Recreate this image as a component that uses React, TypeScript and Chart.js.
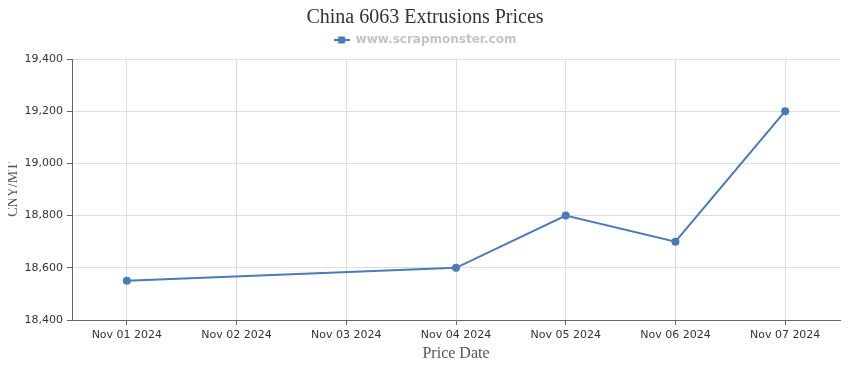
import React, { useEffect, useRef } from "react";
import { Chart, registerables } from "chart.js";

Chart.register(...registerables);

const categories = ["Nov 01 2024", "Nov 02 2024", "Nov 03 2024", "Nov 04 2024", "Nov 05 2024", "Nov 06 2024", "Nov 07 2024"];
const prices: (number | null)[] = [18550, null, null, 18600, 18800, 18700, 19200];
const seriesName = "www.scrapmonster.com";
const chartTitle = "China 6063 Extrusions Prices";
const xTitle = "Price Date";
const yTitle = "CNY/MT";
const yMin = 18400;
const yMax = 19400;
const yStep = 200;

const LINE = "#4a7ab8";

function makeMarker(): HTMLCanvasElement {
  const c = document.createElement("canvas");
  c.width = 16;
  c.height = 8;
  const g = c.getContext("2d")!;
  g.fillStyle = LINE;
  g.fillRect(0, 3, 16, 2);
  g.fillRect(4.5, 0.5, 7, 7);
  return c;
}

const legendGap = {
  id: "legendGap",
  beforeLayout(chart: any) {
    const lg = chart.legend;
    if (lg && !lg.__patched) {
      const orig = lg.fit;
      lg.fit = function () {
        orig.call(this);
        this.height += 3;
      };
      lg.__patched = true;
    }
  },
};

export default function App() {
  const ref = useRef<HTMLCanvasElement>(null);
  useEffect(() => {
    const marker = makeMarker();
    const chart = new Chart(ref.current!, {
      type: "line",
      data: {
        labels: categories,
        datasets: [
          {
            label: seriesName,
            data: prices,
            borderColor: LINE,
            backgroundColor: LINE,
            borderWidth: 2,
            pointRadius: 4,
            pointHoverRadius: 4,
            pointBackgroundColor: LINE,
            pointBorderWidth: 0,
            spanGaps: true,
            tension: 0,
            pointStyle: "circle",
          },
        ],
      },
      options: {
        animation: false,
        responsive: true,
        maintainAspectRatio: false,
        layout: { padding: 0 },
        plugins: {
          tooltip: { enabled: false },
          title: {
            display: true,
            text: chartTitle,
            color: "#333333",
            font: { family: "'Liberation Serif', 'Times New Roman', serif", size: 20, weight: "normal" },
            padding: { top: 6, bottom: 0 },
          },
          legend: {
            display: true,
            position: "top",
            labels: {
              color: "#c4c4c4",
              font: { family: "'DejaVu Sans', Verdana, sans-serif", size: 12, weight: "bold" },
              padding: 4,
              usePointStyle: true,
              pointStyleWidth: 16,
              generateLabels: (ch: any) =>
                ch.data.datasets.map((ds: any, i: number) => ({
                  text: ds.label,
                  fillStyle: LINE,
                  strokeStyle: LINE,
                  lineWidth: 0,
                  pointStyle: marker,
                  hidden: false,
                  datasetIndex: i,
                  fontColor: "#c4c4c4",
                })),
            },
          },
        },
        scales: {
          x: {
            type: "category",
            offset: true,
            afterFit: (s: any) => {
              s.height = 50;
            },
            grid: {
              offset: false,
              color: "#dddddd",
              tickColor: "#666666",
              tickLength: 5,
              drawOnChartArea: true,
            },
            border: { color: "#666666", width: 1 },
            ticks: {
              color: "#333333",
              font: { family: "'DejaVu Sans', Verdana, sans-serif", size: 11 },
              padding: 4,
              maxRotation: 0,
              autoSkip: false,
            },
            title: {
              display: true,
              text: xTitle,
              color: "#555555",
              font: { family: "'Liberation Serif', 'Times New Roman', serif", size: 16 },
              padding: { top: 0, bottom: 7 },
            },
          },
          y: {
            min: yMin,
            max: yMax,
            afterFit: (s: any) => {
              s.width = 72;
            },
            grid: {
              color: "#dddddd",
              tickColor: "#666666",
              tickLength: 5,
            },
            border: { color: "#666666", width: 1 },
            ticks: {
              stepSize: yStep,
              color: "#333333",
              font: { family: "'DejaVu Sans', Verdana, sans-serif", size: 11 },
              padding: 4,
              callback: (v: any) => Number(v).toLocaleString("en-US"),
            },
            title: {
              display: true,
              text: yTitle,
              color: "#555555",
              font: { family: "'Liberation Serif', 'Times New Roman', serif", size: 14 },
              padding: { top: 5, bottom: 0 },
            },
          },
          rightPad: {
            type: "linear",
            position: "right",
            display: true,
            afterFit: (s: any) => {
              s.width = 10;
            },
            grid: { display: false, drawOnChartArea: false, drawTicks: false },
            border: { display: false },
            ticks: { display: false },
            title: { display: false },
          },
        },
      },
      plugins: [legendGap],
    });
    return () => chart.destroy();
  }, []);
  return (
    <div style={{ margin: "-8px", width: 850, height: 370, position: "relative" }}>
      <canvas ref={ref} />
    </div>
  );
}
